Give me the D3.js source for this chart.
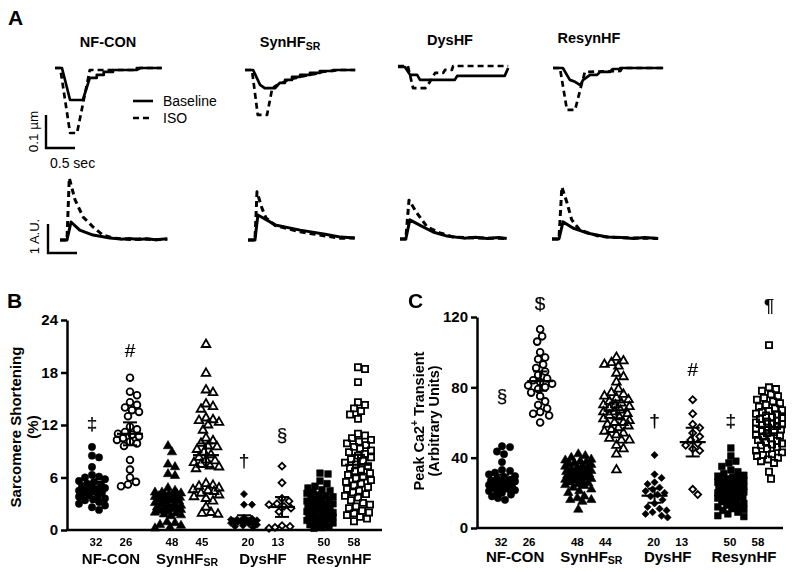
<!DOCTYPE html>
<html><head><meta charset="utf-8">
<script src="https://cdn.jsdelivr.net/npm/d3@7/dist/d3.min.js"></script>
<style>
body{margin:0;background:#fff}
svg{display:block}
text{font-family:"Liberation Sans",Arial,sans-serif;fill:#000}
.marks{opacity:0.995;will-change:transform}
</style>
</head><body>
<svg id="chart" width="800" height="572"></svg>
<script>
// ---------------- DATA ----------------
const groupNames = ["NF-CON","SynHF","DysHF","ResynHF"];
const groupSubs  = ["","SR","",""];
const conditions = ["Baseline","ISO"];
const conditionKeys = ["NF-B","NF-I","Syn-B","Syn-I","Dys-B","Dys-I","Res-B","Res-I"];
const countsB = [32,26,48,45,20,13,50,58];
const countsC = [32,26,48,44,20,13,50,58];
const ticksB = [0,6,12,18,24];
const ticksC = [0,40,80,120];

// Panel B: sarcomere shortening (%)
const shortNFBase = [9.5,8.5,8.3,7.2,6.3,6.1,6.0,5.8,5.6,5.5,5.3,5.2,5.0,4.9,4.8,4.7,4.6,4.5,4.4,4.3,4.2,4.0,3.9,3.8,3.6,3.5,3.4,3.2,3.0,2.8,2.6,2.3];
const shortNFIso  = [17.4,15.8,15.4,14.6,14.3,14.0,13.7,13.5,13.0,11.8,11.5,11.2,11.0,10.9,10.7,10.5,10.3,10.1,9.9,9.6,8.0,6.9,6.0,5.5,5.2,5.0];
const shortSynBase = [9.6,8.9,7.5,7.2,6.4,6.2,4.8,4.5,4.3,4.1,4.0,4.3,4.2,4.1,4.0,3.9,3.8,3.7,3.6,3.5,3.5,3.5,3.4,3.3,3.2,3.1,3.0,2.9,2.8,2.7,2.6,2.5,2.5,2.4,2.3,2.2,2.1,2.0,1.9,1.8,1.7,1.6,0.9,0.8,0.6,0.5,0.3,0.2];
const shortSynIso  = [21.2,17.9,16.0,15.7,14.4,14.1,13.8,12.8,12.6,12.5,12.3,12.0,11.4,10.5,10.2,9.9,9.6,9.5,9.2,8.9,8.6,8.3,8.0,7.9,7.7,7.5,7.3,7.2,7.0,5.3,5.1,5.0,4.8,4.6,4.5,4.4,4.2,4.0,3.8,3.6,3.3,2.6,2.0,1.9,1.8];
const shortDysBase = [4.1,2.9,2.9,1.4,1.3,1.2,1.2,1.1,1.1,1.0,1.0,1.0,0.9,0.9,0.8,0.7,0.6,0.5,0.4,0.3];
const shortDysIso  = [7.3,5.4,3.6,3.3,3.0,2.9,2.7,2.5,2.1,0.5,0.4,0.3,0.2];
const shortResBase = [6.5,6.4,5.6,5.3,5.0,4.8,4.6,4.5,4.3,4.2,4.0,3.9,3.8,3.7,3.6,3.5,3.4,3.3,3.2,3.1,3.0,2.9,2.8,2.7,2.6,2.5,2.4,2.3,2.2,2.1,2.0,1.9,1.8,1.7,1.6,1.5,1.5,1.4,1.3,1.2,1.1,1.0,0.9,0.8,0.7,0.6,0.5,0.4,0.3,0.2];
const shortResIso  = [18.6,18.4,16.9,14.6,14.3,13.9,13.6,13.2,12.7,11.0,10.8,10.5,10.3,10.1,9.9,9.7,9.5,9.3,9.1,8.9,8.7,8.5,8.3,8.1,7.9,7.7,7.5,7.3,7.1,6.9,6.7,6.5,6.3,6.1,5.9,5.7,5.5,5.3,5.1,4.9,4.7,4.5,4.3,4.1,3.9,3.7,3.4,3.1,2.9,2.7,2.5,2.2,2.0,1.9,1.7,1.5,1.3,1.0];

// Panel C: peak Ca2+ transient (arbitrary units)
const caNFBase = [46.5,46.0,43.5,42.0,37.5,33.0,32.5,31.5,30.5,29.5,29.0,28.0,27.5,27.0,26.5,26.0,25.5,25.0,24.5,24.0,23.5,23.0,22.5,22.0,21.5,21.0,20.5,20.0,19.0,18.0,17.0,16.0];
const caNFIso  = [113,109,106,100,97,96,93,91,89,87,85,84,83,82,81,80,79,77,75,72,70,68,66,65,64,60];
const caSynBase = [42,41,40,39,38.5,38,37.5,37,36.5,36,35.5,35,34.5,34,33.5,33,32.5,32,32,31.5,31,31,30.5,30,30,29.5,29,29,28.5,28,27.5,27,26.5,26,25.5,25,24.5,24,23,22,21,20,18,17,16,16,15,10.5];
const caSynIso  = [97,95,94,93,92,88,86,83,79,77,76,75,74,73,72,71,70,70,69,68,67,66,66,65,64,63,62,61,60,60,59,58,57,56,55,54,53,51,50,50,47,45,42,33];
const caDysBase = [41.5,30.5,28.5,26,25,23,22,21,20,19,18,16,14,12,11,10,9,8,7,6];
const caDysIso  = [73,65,59,57,54,52,50,48,47,45,44,22,19];
const caResBase = [45.5,41,38,37,35,33,32,31,30,29.5,29,28.5,28,27.5,27,26.5,26,25.5,25,24.5,24,23.5,23,22.5,22,21.5,21,20.5,20,19.5,19,18.5,18,17.5,17,16.5,16,15,14.5,14,13,12.5,12,11,10.5,10,9,8,7,6.5];
const caResIso  = [104,80,79,78,76,75,74,73,72,71,70,69,68,67,66.5,66,65,64.5,64,63,62.5,62,61,60.5,60,59.5,59,58.5,58,57,56.5,56,55,54.5,54,53,52.5,52,51,50,49.5,49,48,47.5,47,46,45,44,43,42,41.5,41,40,39,38,37,32,28];

// significance marks: symbol and the value level it sits at
const marksB = ["‡","#","","","†","§","",""];
const marksBLevel = [12.2,20.5,0,0,7.9,10.9,0,0];
const marksC = ["§","$","","","†","#","‡","¶"];
const marksCLevel = [75.6,127.4,0,0,60.9,89.9,60.9,126.8];

// Panel A traces: [time (s), sarcomere shortening (µm)]
const sarcNFBase = [[0,0],[0.12,0],[0.26,0.097],[0.48,0.097],[0.6,0.03],[0.72,0.03],[0.72,0.021],[0.84,0.021],[0.84,0.012],[1.0,0.012],[1.0,0.006],[1.41,0.006],[1.41,0],[1.84,0]];
const sarcNFIso  = [[0,0],[0.09,0],[0.26,0.197],[0.38,0.197],[0.6,0.006],[1.41,0.006],[1.47,0],[1.84,0]];
const sarcSynBase = [[0,0],[0.14,0],[0.26,0.045],[0.34,0.055],[0.52,0.055],[0.6,0.039],[0.69,0.039],[0.69,0.03],[0.81,0.03],[0.81,0.021],[0.95,0.021],[0.95,0.015],[1.12,0.015],[1.12,0.009],[1.29,0.009],[1.29,0.003],[1.52,0.003],[1.52,0],[1.9,0]];
const sarcSynIso  = [[0,0],[0.12,0],[0.22,0.136],[0.38,0.136],[0.47,0.055],[0.53,0.048],[0.64,0.039],[0.74,0.03],[0.88,0.024],[1.03,0.018],[1.21,0.012],[1.33,0.006],[1.47,0.003],[1.64,0],[1.9,0]];
const sarcDysBase = [[0,0],[0.12,0],[0.21,0.024],[0.33,0.024],[0.38,0.039],[0.98,0.039],[1.02,0.027],[1.84,0.027],[1.9,0.003]];
const sarcDysIso  = [[0,-0.003],[0.17,-0.003],[0.26,0.064],[0.47,0.064],[0.55,0.045],[0.64,0.018],[0.78,0.018],[0.81,0.009],[0.93,0.009],[0.95,-0.003],[1.9,-0.003]];
const sarcResBase = [[0,0],[0.17,0],[0.29,0.036],[0.38,0.042],[0.47,0.052],[0.52,0.036],[0.64,0.021],[0.76,0.021],[0.81,0.012],[0.98,0.012],[1.03,0.003],[1.16,0.003],[1.16,0],[1.9,0]];
const sarcResIso  = [[0,0],[0.12,0],[0.24,0.127],[0.38,0.127],[0.5,0.045],[0.55,0.012],[1.16,0.009],[1.19,0],[1.9,0]];

// Panel A traces: [time (s), Ca2+ signal (A.U.)]
const caTrNFBase = [[0,0],[0.12,0],[0.19,0.62],[0.34,0.34],[0.57,0.17],[0.86,0.07],[1.05,0.03],[1.2,0.05],[1.35,0.02],[1.5,0.04],[1.65,0.01],[1.85,0.04]];
const caTrNFIso  = [[0,0],[0.12,0],[0.16,2.14],[0.26,1.38],[0.4,0.79],[0.57,0.45],[0.74,0.17],[0.91,0.07],[1.05,0.04],[1.2,0.02],[1.4,0.04],[1.6,0.01],[1.85,0.03]];
const caTrSynBase = [[0,0],[0.12,0],[0.17,0.86],[0.47,0.52],[0.9,0.34],[1.33,0.2],[1.6,0.1],[1.84,0.07]];
const caTrSynIso  = [[0,0],[0.12,0],[0.155,1.66],[0.24,1.1],[0.31,0.76],[0.47,0.5],[0.9,0.28],[1.33,0.14],[1.6,0.06],[1.84,0.07]];
const caTrDysBase = [[0,0],[0.1,0],[0.17,0.66],[0.34,0.48],[0.57,0.24],[0.81,0.1],[1.1,0.03],[1.3,0.06],[1.5,0.02],[1.7,0.05],[1.84,0.02]];
const caTrDysIso  = [[0,0],[0.1,0],[0.155,1.34],[0.29,0.9],[0.47,0.41],[0.69,0.21],[0.91,0.07],[1.2,0.04],[1.5,0.03],[1.84,0.02]];
const caTrResBase = [[0,0],[0.12,0],[0.19,0.59],[0.36,0.38],[0.6,0.21],[0.95,0.07],[1.2,0.05],[1.4,0.02],[1.6,0.05],[1.83,0.02]];
const caTrResIso  = [[0,0],[0.12,0],[0.17,1.79],[0.26,1.24],[0.34,0.66],[0.48,0.31],[0.8,0.1],[1.1,0.05],[1.5,0.03],[1.83,0.02]];

// ---------------- DRAW ----------------
const svg = d3.select("#chart");
const FONT = "'Liberation Sans',Arial,sans-serif";

// ===== Panel A =====
svg.append("text").attr("x",8).attr("y",25).attr("font-size",21).attr("font-weight","bold").attr("fill","#000").text("A");

const colSarcX0 = [55,245,398,553];
const colSarcBase = [68,70,67,68];
const colCaX0 = [60,248,400,552];
const colCaBase = [240,240,239,239];
const titleX = [108,290,450,589];
const titleY = [47,47,45,43];
const sarcTraces = [[sarcNFBase,sarcNFIso],[sarcSynBase,sarcSynIso],[sarcDysBase,sarcDysIso],[sarcResBase,sarcResIso]];
const caTraces = [[caTrNFBase,caTrNFIso],[caTrSynBase,caTrSynIso],[caTrDysBase,caTrDysIso],[caTrResBase,caTrResIso]];
const pxPerSec = 58, pxPerTenthUm = 33, pxPerAU = 29;

groupNames.forEach((g,i)=>{
  const t = svg.append("text").attr("x",titleX[i]).attr("y",titleY[i]).attr("text-anchor","middle")
    .attr("font-size",14.5).attr("font-weight","bold").attr("fill","#000").text(g);
  if (groupSubs[i]) t.append("tspan").attr("font-size",10.5).attr("dy",3).text(groupSubs[i]);

  const xs = d3.scaleLinear().domain([0,1]).range([colSarcX0[i], colSarcX0[i]+pxPerSec]);
  const ys = d3.scaleLinear().domain([0,0.1]).range([colSarcBase[i], colSarcBase[i]+pxPerTenthUm]);
  const line = d3.line().x(d=>xs(d[0])).y(d=>ys(d[1]));
  sarcTraces[i].forEach((tr,j)=>{
    svg.append("path").attr("d",line(tr)).attr("fill","none").attr("stroke","#000")
      .attr("stroke-width",2.7).attr("stroke-dasharray", j? "6,4":null).attr("stroke-linejoin","round");
  });

  const xc = d3.scaleLinear().domain([0,1]).range([colCaX0[i], colCaX0[i]+pxPerSec]);
  const yc = d3.scaleLinear().domain([0,1]).range([colCaBase[i], colCaBase[i]-pxPerAU]);
  const lineC = d3.line().x(d=>xc(d[0])).y(d=>yc(d[1]));
  caTraces[i].forEach((tr,j)=>{
    svg.append("path").attr("d",lineC(tr)).attr("fill","none").attr("stroke","#000")
      .attr("stroke-width",3).attr("stroke-dasharray", j? "6,4":null).attr("stroke-linejoin","round");
  });
});

// scale bars
(function(){
  const xs = d3.scaleLinear().domain([0,1]).range([46,46+pxPerSec]);
  const ys = d3.scaleLinear().domain([0,0.1]).range([148,148-pxPerTenthUm]);
  svg.append("path").attr("d",`M${xs(0)},${ys(0.1)}V${ys(0)}H${xs(0.5)}`).attr("fill","none").attr("stroke","#000").attr("stroke-width",2.4);
  svg.append("text").attr("transform",`translate(38,${(ys(0)+ys(0.1))/2}) rotate(-90)`).attr("text-anchor","middle")
    .attr("font-size",13.5).attr("fill","#000").text("0.1 µm");
  svg.append("text").attr("x",50).attr("y",168).attr("font-size",14).attr("fill","#000").text("0.5 sec");
  const xc = d3.scaleLinear().domain([0,1]).range([48,48+pxPerSec]);
  const yc = d3.scaleLinear().domain([0,1]).range([253,253-pxPerAU]);
  svg.append("path").attr("d",`M${xc(0)},${yc(1)}V${yc(0)}H${xc(0.5)}`).attr("fill","none").attr("stroke","#000").attr("stroke-width",2.4);
  svg.append("text").attr("transform",`translate(39,${(yc(0)+yc(1))/2-2}) rotate(-90)`).attr("text-anchor","middle")
    .attr("font-size",13).attr("fill","#000").text("1 A.U.");
})();

// legend
conditions.forEach((c,j)=>{
  const y = 101 + j*17;
  svg.append("line").attr("x1",133).attr("x2",153).attr("y1",y).attr("y2",y).attr("stroke","#000")
    .attr("stroke-width",2.6).attr("stroke-dasharray", j? "6,4":null);
  svg.append("text").attr("x",163).attr("y",y+5).attr("font-size",14).attr("fill","#000").text(c);
});

// ===== scatter panels =====
const symbolTypes = [
  {type:d3.symbolCircle,size:42,filled:true,rot:0},
  {type:d3.symbolCircle,size:36,filled:false,rot:0},
  {type:d3.symbolTriangle,size:38,filled:true,rot:0},
  {type:d3.symbolTriangle,size:32,filled:false,rot:0},
  {type:d3.symbolSquare,size:26,filled:true,rot:45},
  {type:d3.symbolSquare,size:24,filled:false,rot:45},
  {type:d3.symbolSquare,size:44,filled:true,rot:0},
  {type:d3.symbolSquare,size:38,filled:false,rot:0}
];

function swarm(vals, cx, y, r, maxOff) {
  const pts = vals.map(v=>({v, y:y(v)})).sort((a,b)=>b.v-a.v);
  const placed = [];
  pts.forEach(p=>{
    let best=0, bestD=-1;
    for (let k=0;k<=2*maxOff;k++){
      const off = (k%2?1:-1)*Math.ceil(k/2);
      let md = Infinity;
      for (const q of placed){ const d=Math.hypot(cx+off-q.x, p.y-q.y); if(d<md) md=d; }
      if (md >= 2*r){ best=off; bestD=md; break; }
      if (md > bestD){ bestD=md; best=off; }
    }
    p.x = cx+best; placed.push(p);
  });
  return pts;
}

function drawPanel(opt){
  const g = svg.append("g");
  const y = d3.scaleLinear().domain([0, opt.max]).range([opt.y0, opt.y1]);
  const x = d3.scalePoint().domain(conditionKeys).range(opt.xRange);
  g.append("text").attr("x",opt.letterX).attr("y",308).attr("font-size",21).attr("font-weight","bold").attr("fill","#000").text(opt.letter);
  const ax = g.append("g").attr("transform",`translate(${opt.axisX},0)`)
    .call(d3.axisLeft(y).tickValues(opt.ticks).tickSize(6).tickSizeOuter(0).tickPadding(3).tickFormat(d3.format("d")));
  ax.select(".domain").attr("stroke","#000").attr("stroke-width",2.5);
  ax.selectAll(".tick line").attr("stroke","#000").attr("stroke-width",2.5);
  ax.selectAll(".tick text").attr("font-size",15).attr("font-weight","bold")
    .attr("font-family",FONT).attr("fill","#000");
  g.append("line").attr("x1",opt.axisX-1).attr("x2",opt.axisRight).attr("y1",y(0)).attr("y2",y(0))
    .attr("stroke","#000").attr("stroke-width",2.5);
  const tt = g.append("text").attr("transform",`translate(${opt.titleX},${opt.titleY}) rotate(-90)`)
    .attr("text-anchor","middle").attr("font-size",opt.titleSize).attr("font-weight","bold").attr("fill","#000");
  opt.title(tt);
  g.append("text").attr("transform",`translate(${opt.title2X},${opt.titleY}) rotate(-90)`)
    .attr("text-anchor","middle").attr("font-size",opt.titleSize).attr("font-weight","bold").attr("fill","#000").text(opt.title2);

  opt.data.forEach((vals,i)=>{
    const s = symbolTypes[i];
    const pts = swarm(vals, x(conditionKeys[i]), y, 3.6, 13);
    const sym = d3.symbol().type(s.type).size(s.size);
    g.append("g").selectAll("path").data(pts).join("path")
      .attr("d",sym)
      .attr("transform",d=>`translate(${d.x},${d.y}) rotate(${s.rot})`)
      .attr("fill", s.filled ? "#000" : "none")
      .attr("stroke","#000").attr("stroke-width", s.filled ? 0.6 : 1.8);
  });
  opt.data.forEach((vals,i)=>{
    const cx = x(conditionKeys[i]);
    const m = d3.mean(vals), se = d3.deviation(vals)/Math.sqrt(vals.length);
    const lo = m-1.96*se, hi = m+1.96*se;
    g.append("line").attr("x1",cx-13).attr("x2",cx+13).attr("y1",y(m)).attr("y2",y(m)).attr("stroke","#000").attr("stroke-width",2.2);
    g.append("line").attr("x1",cx).attr("x2",cx).attr("y1",y(lo)).attr("y2",y(hi)).attr("stroke","#000").attr("stroke-width",2);
    [lo,hi].forEach(v=>g.append("line").attr("x1",cx-7).attr("x2",cx+7).attr("y1",y(v)).attr("y2",y(v)).attr("stroke","#000").attr("stroke-width",2));
  });
  const mg = g.append("g").attr("class","marks");
  opt.marks.forEach((mk,i)=>{
    if(!mk) return;
    mg.append("text").attr("transform",`translate(${x(conditionKeys[i])},${y(opt.markLevels[i])}) rotate(0.01)`)
      .attr("text-anchor","middle").attr("dominant-baseline","central").attr("font-size",19)
      .attr("font-family",FONT).attr("fill","#000").attr("stroke","#000").attr("stroke-width",0.2).text(mk);
  });
  groupNames.forEach((gn,gi)=>{
    const c = (x(conditionKeys[2*gi]) + x(conditionKeys[2*gi+1]))/2 + opt.labelShift;
    [0,1].forEach(j=>{
      g.append("text").attr("x",c + (j? opt.countHalf : -opt.countHalf)).attr("y",opt.countY)
        .attr("text-anchor","middle").attr("font-size",11.5).attr("font-weight","bold").attr("fill","#000")
        .attr("font-family","'Open Sans','DejaVu Sans',sans-serif").text(opt.counts[2*gi+j]);
    });
    const t = g.append("text").attr("x",c).attr("y",opt.nameY).attr("text-anchor","middle")
      .attr("font-size",15).attr("font-weight","bold").attr("fill","#000").text(gn);
    if (groupSubs[gi]) t.append("tspan").attr("font-size",10.5).attr("dy",2).text(groupSubs[gi]);
  });
}

drawPanel({
  letter:"B", letterX:7, max:24, y0:530, y1:320, xRange:[92,358], axisX:67, axisRight:382,
  ticks:ticksB, titleX:21, title2X:38, titleY:427, title2:"(%)", titleSize:15,
  title: t=>t.text("Sarcomere Shortening"),
  data:[shortNFBase,shortNFIso,shortSynBase,shortSynIso,shortDysBase,shortDysIso,shortResBase,shortResIso],
  marks:marksB, markLevels:marksBLevel, counts:countsB, labelShift:0, countHalf:15, countY:546, nameY:564
});
drawPanel({
  letter:"C", letterX:408, max:120, y0:528, y1:317, xRange:[502,769], axisX:477, axisRight:783,
  ticks:ticksC, titleX:424, title2X:439, titleY:421, title2:"(Arbitrary Units)", titleSize:14.5,
  title: t=>{ t.text("Peak Ca2"); t.append("tspan").attr("font-size",10).attr("dy",-6).text("+");
              t.append("tspan").attr("dy",6).text(" Transient"); },
  data:[caNFBase,caNFIso,caSynBase,caSynIso,caDysBase,caDysIso,caResBase,caResIso],
  marks:marksC, markLevels:marksCLevel, counts:countsC, labelShift:-6, countHalf:14, countY:546, nameY:562
});
</script>
</body></html>
